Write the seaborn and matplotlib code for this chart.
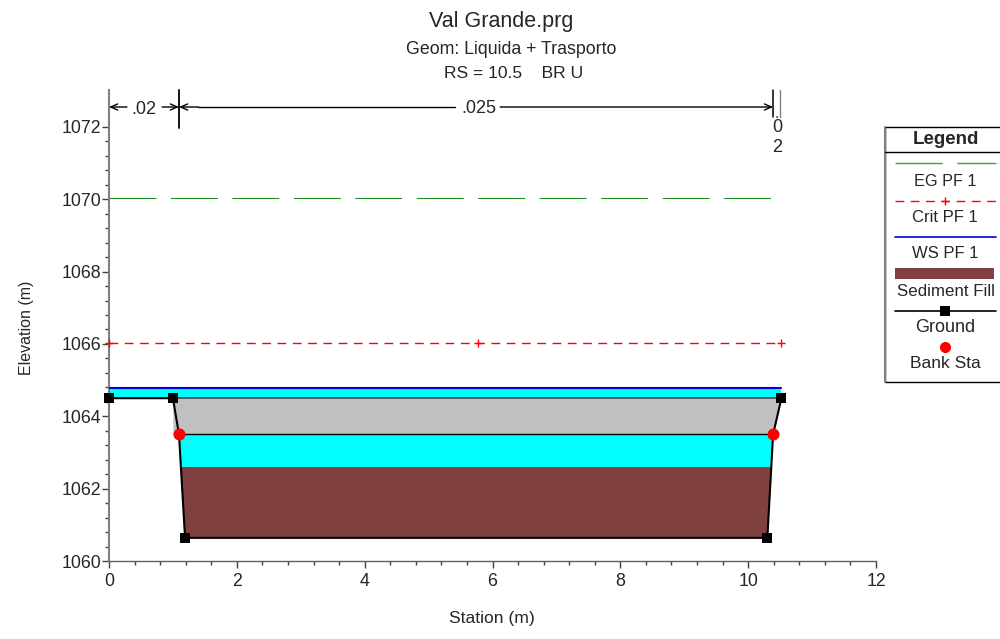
import matplotlib
matplotlib.use("Agg")
import matplotlib.pyplot as plt
import pandas as pd
import seaborn as sns
from matplotlib.patches import Rectangle

sns.set_style("white")
plt.rcParams["font.family"] = ["Liberation Sans", "DejaVu Sans"]

# cross section values
ground_x = [0, 1.0, 1.095, 1.19, 10.3, 10.39, 10.52]
ground_y = [1064.5, 1064.5, 1063.5, 1060.64, 1060.64, 1063.5, 1064.5]
bank_x = [1.095, 10.39]
bank_y = [1063.5, 1063.5]
eg_elev = 1070.03
crit_elev = 1066.04
ws_elev = 1064.78
sediment_top = 1062.6
deck_low = 1063.5
deck_high = 1064.5
left_edge = 0
right_edge = 10.52
crit_marks = [0, 5.78, 10.52]
n_breaks = [0, 1.095, 10.39, 10.5]
n_labels = [".02", ".025"]
x_ticks = [0, 2, 4, 6, 8, 10, 12]
y_ticks = [1060, 1062, 1064, 1066, 1068, 1070, 1072]

GREEN = "#1a8a1a"
GREY = "#808080"
W, H = 1000, 639
EG_DASH = (0, (45, 14))
CRIT_DASH = (0, (6.3, 4.7))

fig = plt.figure(figsize=(10, 6.39), dpi=100)
ax = fig.add_axes([109 / W, 1 - 561 / H, (876 - 109) / W, (561 - 90) / H])
ax.set_xlim(0, 12)
ax.set_ylim(1060, 1073.02)
ax.patch.set_alpha(0)

# water and deck fills
ax.fill_between([left_edge, right_edge], [deck_high] * 2, [ws_elev] * 2, color="#00ffff", lw=0, zorder=1)
ax.fill_between([1.0, 1.095, 10.39, 10.52], [deck_high] * 4, [deck_low, deck_low, deck_low, deck_high],
                color="#c0c0c0", lw=0, zorder=1)
ax.fill([1.095, 1.125, 10.36, 10.39], [deck_low, sediment_top, sediment_top, deck_low],
        color="#00ffff", lw=0, zorder=1)
ax.fill([1.125, 1.19, 10.3, 10.36], [sediment_top, 1060.64, 1060.64, sediment_top],
        color="#804040", lw=0, zorder=1)

# energy, critical and water surface lines
eg = pd.DataFrame({"x": [left_edge, right_edge], "y": [eg_elev, eg_elev]})
crit = pd.DataFrame({"x": [left_edge, right_edge], "y": [crit_elev, crit_elev]})
ws = pd.DataFrame({"x": [left_edge, right_edge], "y": [ws_elev, ws_elev]})
sns.lineplot(data=eg, x="x", y="y", ax=ax, color=GREEN, lw=0.75, ls=EG_DASH, zorder=2)
sns.lineplot(data=crit, x="x", y="y", ax=ax, color="red", lw=1, ls=CRIT_DASH, zorder=2)
sns.scatterplot(x=crit_marks, y=[crit_elev] * len(crit_marks), ax=ax, marker="+", color="red",
                s=30, linewidth=1, zorder=5, clip_on=False)
sns.lineplot(data=ws, x="x", y="y", ax=ax, color="#0000e0", lw=1.5, zorder=3)

# deck outline
ax.plot([1.0, 10.52], [deck_high, deck_high], color="#404040", lw=1.2, zorder=3)
ax.plot([1.095, 10.39], [deck_low, deck_low], color="black", lw=1, zorder=3)

# ground
section = pd.DataFrame({"x": ground_x, "y": ground_y})
sns.lineplot(data=section, x="x", y="y", ax=ax, color="black", lw=1.5, sort=False, estimator=None, zorder=4)
sns.scatterplot(data=section.drop([2, 5]), x="x", y="y", ax=ax, marker="s", color="black", s=50,
                linewidth=0, zorder=5, clip_on=False)
sns.scatterplot(x=bank_x, y=bank_y, ax=ax, marker="o", color="red", s=75, linewidth=0, zorder=6)

# manning n bar at the top
n_y = 1072.55
ax.plot([n_breaks[1]] * 2, [1071.98, 1073.02], color="black", lw=1.3, clip_on=False)
ax.plot([n_breaks[2]] * 2, [1072.28, 1073.02], color="black", lw=1.1, clip_on=False)
ax.plot([n_breaks[3]] * 2, [1072.28, 1073.02], color=GREY, lw=1, clip_on=False)
arrow = dict(arrowstyle="->,head_length=0.5,head_width=0.22", color="black", lw=1, shrinkA=0, shrinkB=0)
for a, b in [(0.28, 0), (0.83, 1.095), (1.4, 1.095), (6.12, 10.39)]:
    ax.annotate("", xy=(b, n_y), xytext=(a, n_y), arrowprops=arrow, annotation_clip=False)
ax.plot([1.4, 5.41], [n_y, n_y], color="black", lw=1)
ax.text(0.55, n_y - 0.08, n_labels[0], ha="center", va="center", fontsize=13)
ax.text(5.79, n_y - 0.05, n_labels[1], ha="center", va="center", fontsize=13)
ax.text(10.45, 1072.36, ".", ha="center", va="center", fontsize=11)
ax.text(10.45, 1071.97, "0", ha="center", va="center", fontsize=13)
ax.text(10.45, 1071.42, "2", ha="center", va="center", fontsize=13)

# axes
sns.despine(ax=ax)
ax.spines["left"].set_color(GREY)
ax.spines["left"].set_linewidth(1.5)
ax.spines["bottom"].set_color("#606060")
ax.spines["bottom"].set_linewidth(1)
ax.set_xticks(x_ticks)
ax.set_yticks(y_ticks)
ax.set_xticks([i * 0.4 for i in range(31)], minor=True)
ax.set_yticks([1060 + i * 0.4 for i in range(31)], minor=True)
ax.tick_params(axis="y", which="major", length=5, width=1, color="#404040", labelsize=12.8, pad=0.5, left=True)
ax.tick_params(axis="x", which="major", length=5, width=1, color="#404040", labelsize=12.8, pad=3.5, bottom=True)
ax.tick_params(axis="both", which="minor", length=3.2, width=1, color="#404040", left=True, bottom=True)
ax.set_xlabel("")
ax.set_ylabel("")
fig.text(492 / W, 1 - 618 / H, "Station (m)", ha="center", va="center", fontsize=12.6)
fig.text(27 / W, 1 - 328 / H, "Elevation (m)", ha="center", va="center", rotation=90, fontsize=11.5)

# titles
fig.text(501 / W, 1 - 22 / H, "Val Grande.prg", ha="center", va="center", fontsize=15.5)
fig.text(511 / W, 1 - 49 / H, "Geom: Liquida + Trasporto", ha="center", va="center", fontsize=12.8)
fig.text(514 / W, 1 - 73 / H, "RS = 10.5    BR U", ha="center", va="center", fontsize=12.6)

# legend box drawn by hand to keep the stacked layout
lg = fig.add_axes([0, 0, 1, 1])
lg.set_xlim(0, W)
lg.set_ylim(H, 0)
lg.axis("off")
lg.add_patch(Rectangle((885, 127), 116, 255, fc="white", ec="black", lw=1, clip_on=False))
lg.plot([885, 885], [127, 382], color=GREY, lw=1.5)
lg.plot([885, 1000], [152, 152], color="black", lw=1)
lg.text(945.5, 139, "Legend", ha="center", va="center", fontsize=13.5, fontweight="bold")
lg.plot([895, 996], [163, 163], color="#3aa83a", lw=1, ls=(0, (34, 10.5)))
lg.text(945, 181, "EG PF 1", ha="center", va="center", fontsize=11.7)
lg.plot([895, 996], [201, 201], color="red", lw=1, ls=CRIT_DASH)
lg.plot([945], [201], marker="+", color="red", ms=6, mew=1)
lg.text(945, 218, "Crit PF 1", ha="center", va="center", fontsize=12)
lg.plot([895, 996], [237, 237], color="#0000e0", lw=1.2)
lg.text(945, 254, "WS PF 1", ha="center", va="center", fontsize=12)
lg.add_patch(Rectangle((895, 268), 99, 11, fc="#804040", ec="none"))
lg.text(945.5, 291, "Sediment Fill", ha="center", va="center", fontsize=12.2)
lg.plot([895, 996], [311, 311], color="black", lw=1.2)
lg.plot([945], [311], marker="s", color="black", ms=6.5, mew=0)
lg.text(945, 328, "Ground", ha="center", va="center", fontsize=13)
lg.plot([945], [347], marker="o", color="red", ms=8, mew=0)
lg.text(945.5, 364, "Bank Sta", ha="center", va="center", fontsize=12.5)

fig.savefig("out.png", dpi=100)
